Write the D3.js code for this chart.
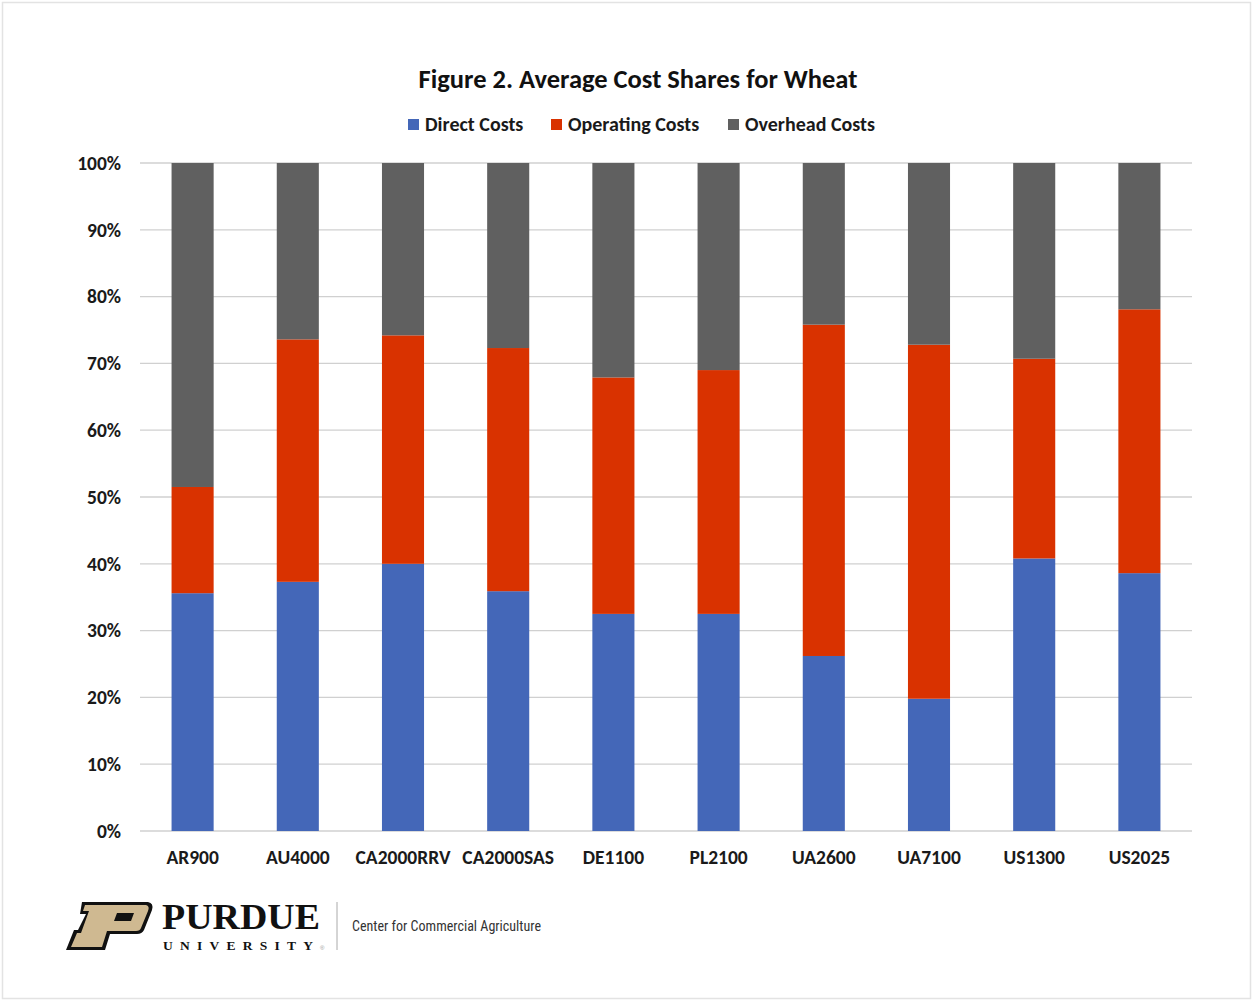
<!DOCTYPE html>
<html><head><meta charset="utf-8">
<script src="https://cdn.jsdelivr.net/npm/d3@7"></script>
<style>
html,body{margin:0;padding:0;background:#fff;}
svg{display:block;}
</style></head>
<body>
<svg id="chart" width="1252" height="1001"></svg>
<script>
const categories = ["AR900","AU4000","CA2000RRV","CA2000SAS","DE1100","PL2100","UA2600","UA7100","US1300","US2025"];
const seriesNames = ["Direct Costs","Operating Costs","Overhead Costs"];
const directCosts    = [35.6, 37.3, 40.0, 35.9, 32.5, 32.5, 26.2, 19.8, 40.8, 38.6];
const operatingCosts = [15.9, 36.3, 34.2, 36.4, 35.4, 36.5, 49.6, 53.0, 29.9, 39.5];
const overheadCosts  = [48.5, 26.4, 25.8, 27.7, 32.1, 31.0, 24.2, 27.2, 29.3, 21.9];
const yTicks = [0,10,20,30,40,50,60,70,80,90,100];
const colors = ["#4467B8","#D93200","#606060"];

const font = "Carlito, Lato, 'Liberation Sans', sans-serif";
const svg = d3.select("#chart");

// border
svg.append("rect").attr("x",2.5).attr("y",2.5).attr("width",1248).attr("height",996)
  .attr("fill","#fff").attr("stroke","#e3e3e3").attr("stroke-width",1.5);

const m = {left:140, right:1192, top:163, bottom:831};
const x = d3.scaleBand().domain(categories).range([m.left, m.right]).paddingInner(0.6).paddingOuter(0.3);
const y = d3.scaleLinear().domain([0,100]).range([m.bottom, m.top]);

// gridlines
svg.append("g").selectAll("line").data(yTicks).join("line")
  .attr("x1",m.left).attr("x2",m.right)
  .attr("y1",d=>y(d)).attr("y2",d=>y(d))
  .attr("stroke","#d0d0d0").attr("stroke-width",1.3);

// y axis labels
const yAxis = d3.axisLeft(y).tickValues(yTicks).tickFormat(d=>d+"%").tickSize(0).tickPadding(19);
const gy = svg.append("g").attr("transform",`translate(${m.left},0)`).call(yAxis);
gy.select(".domain").remove();
gy.selectAll("text").attr("font-family",font).attr("font-weight","bold").attr("font-size",19.5).attr("fill","#1a1a1a");

// stacked bars
const table = categories.map((c,i)=>({cat:c, "Direct Costs":directCosts[i], "Operating Costs":operatingCosts[i], "Overhead Costs":overheadCosts[i]}));
const stack = d3.stack().keys(seriesNames)(table);
svg.append("g").selectAll("g").data(stack).join("g")
  .attr("fill",(d,i)=>colors[i])
  .selectAll("rect").data(d=>d).join("rect")
  .attr("x",d=>x(d.data.cat))
  .attr("width",x.bandwidth())
  .attr("y",d=>y(Math.min(100,d[1])))
  .attr("height",d=>y(d[0])-y(Math.min(100,d[1])));

// x axis labels
const xAxis = d3.axisBottom(x).tickSize(0).tickPadding(19);
const gx = svg.append("g").attr("transform",`translate(0,${m.bottom})`).call(xAxis);
gx.select(".domain").remove();
gx.selectAll("text").attr("font-family",font).attr("font-weight","bold").attr("font-size",19.5).attr("fill","#1a1a1a");

// title
svg.append("text").attr("x",638).attr("y",88).attr("text-anchor","middle")
  .attr("font-family",font).attr("font-weight","bold").attr("font-size",26.5).attr("fill","#111")
  .text("Figure 2. Average Cost Shares for Wheat");

// legend
const legendX = [408, 551, 728];
const lg = svg.append("g").selectAll("g").data(seriesNames).join("g")
  .attr("transform",(d,i)=>`translate(${legendX[i]},119)`);
lg.append("rect").attr("width",11).attr("height",11).attr("fill",(d,i)=>colors[i]);
lg.append("text").attr("x",17).attr("y",12).attr("font-family",font).attr("font-weight","bold")
  .attr("font-size",20).attr("fill","#1a1a1a").text(d=>d);

// Purdue logo
const logo = svg.append("g").attr("transform","translate(60,890)");
logo.append("path")
  .attr("d","M22,12 L88,12 Q94,13 92,20 L84,40 Q82,44 77,44 L50,44 L45,60 L6,60 L14,40 L18,40 L26,24 L20,24 Z")
  .attr("fill","#111");
logo.append("path")
  .attr("d","M25,15 L86,15 Q90,16 88,21 L81,38 Q80,41 76,41 L47,41 L42,57 L11,57 L17,43 L21,43 L29,21 L23,21 Z")
  .attr("fill","#CFB991");
logo.append("path").attr("d","M57,23 L74,23 L71,31 L54,31 Z").attr("fill","#111");
logo.append("text").attr("x",102).attr("y",39).attr("font-family","'Liberation Serif', 'DejaVu Serif', serif")
  .attr("font-weight","bold").attr("font-size",36).attr("fill","#111").attr("textLength",158).attr("lengthAdjust","spacingAndGlyphs").text("PURDUE");
logo.append("text").attr("x",103).attr("y",59.5).attr("font-family","'Liberation Serif', 'DejaVu Serif', serif")
  .attr("font-weight","bold").attr("font-size",13.5).attr("fill","#111").attr("textLength",150).text("UNIVERSITY");
logo.append("text").attr("x",260).attr("y",60).attr("font-family","'Liberation Sans', sans-serif")
  .attr("font-size",6).attr("fill","#999").text("®");
logo.append("line").attr("x1",277).attr("x2",277).attr("y1",12).attr("y2",60).attr("stroke","#aaa").attr("stroke-width",1);
logo.append("text").attr("x",292).attr("y",41).attr("font-family","'Liberation Sans Narrow', 'Roboto Condensed', Roboto, sans-serif")
  .attr("font-size",14.5).attr("fill","#333").attr("textLength",189).attr("lengthAdjust","spacingAndGlyphs").text("Center for Commercial Agriculture");
</script>
</body></html>
